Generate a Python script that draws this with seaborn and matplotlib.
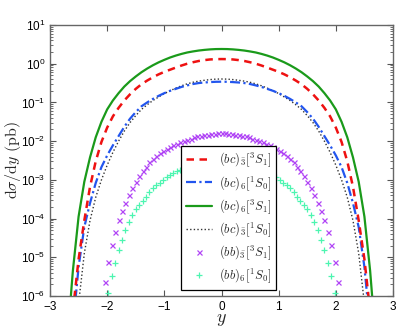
import numpy as np
import pandas as pd
import matplotlib
matplotlib.use("Agg")
import matplotlib.pyplot as plt
from matplotlib.font_manager import FontProperties
from matplotlib import ticker
import seaborn as sns

# ---------------- data (log10 of dsigma/dy in pb) ----------------
y_line = np.round(np.arange(-27, 28) * 0.1, 1)          # rapidity grid for curves
y_mark = np.round(np.arange(-35, 36) * 0.06, 2)         # rapidity grid for markers

log_bc3_3S1 = [-8.0,-6.4,-5.05,-4.05,-3.18,-2.52,-2.02,-1.65,-1.36,-1.14,-0.95,-0.79,-0.65,-0.53,-0.435,-0.35,-0.275,-0.21,-0.155,-0.10,-0.047,0.0,0.038,0.07,0.093,0.11,0.118,0.12,0.118,0.11,0.093,0.07,0.038,0.0,-0.047,-0.10,-0.155,-0.21,-0.275,-0.35,-0.435,-0.53,-0.65,-0.79,-0.95,-1.14,-1.36,-1.65,-2.02,-2.52,-3.18,-4.05,-5.05,-6.4,-8.0]
log_bc6_1S0 = [-8.5,-6.8,-5.25,-4.22,-3.60,-3.08,-2.67,-2.37,-2.11,-1.87,-1.63,-1.42,-1.25,-1.10,-1.00,-0.91,-0.83,-0.76,-0.70,-0.65,-0.60,-0.56,-0.525,-0.50,-0.485,-0.475,-0.467,-0.465,-0.467,-0.475,-0.485,-0.50,-0.525,-0.56,-0.60,-0.65,-0.70,-0.76,-0.83,-0.91,-1.00,-1.10,-1.25,-1.42,-1.63,-1.87,-2.11,-2.37,-2.67,-3.08,-3.60,-4.22,-5.25,-6.8,-8.5]
log_bc6_3S1 = [-7.2,-5.35,-3.95,-3.05,-2.42,-1.90,-1.50,-1.18,-0.95,-0.76,-0.59,-0.45,-0.33,-0.22,-0.125,-0.04,0.035,0.10,0.16,0.21,0.253,0.29,0.317,0.34,0.357,0.37,0.378,0.38,0.378,0.37,0.357,0.34,0.317,0.29,0.253,0.21,0.16,0.10,0.035,-0.04,-0.125,-0.22,-0.33,-0.45,-0.59,-0.76,-0.95,-1.18,-1.50,-1.90,-2.42,-3.05,-3.95,-5.35,-7.2]
log_bc3_1S0 = [-9.5,-8.0,-6.2,-4.90,-4.05,-3.45,-3.00,-2.62,-2.29,-2.00,-1.74,-1.52,-1.34,-1.18,-1.06,-0.95,-0.86,-0.77,-0.70,-0.63,-0.57,-0.52,-0.48,-0.45,-0.428,-0.41,-0.398,-0.395,-0.398,-0.41,-0.428,-0.45,-0.48,-0.52,-0.57,-0.63,-0.70,-0.77,-0.86,-0.95,-1.06,-1.18,-1.34,-1.52,-1.74,-2.00,-2.29,-2.62,-3.00,-3.45,-4.05,-4.90,-6.2,-8.0,-9.5]

log_bb3_3S1 = [-6.200,-5.630,-5.110,-4.680,-4.340,-4.030,-3.800,-3.585,-3.395,-3.220,-3.050,-2.900,-2.765,-2.655,-2.550,-2.450,-2.375,-2.310,-2.250,-2.200,-2.155,-2.110,-2.070,-2.030,-1.995,-1.960,-1.932,-1.905,-1.878,-1.860,-1.843,-1.830,-1.818,-1.808,-1.802,
               -1.800,
               -1.802,-1.808,-1.818,-1.830,-1.843,-1.860,-1.878,-1.905,-1.932,-1.960,-1.995,-2.030,-2.070,-2.110,-2.155,-2.200,-2.250,-2.310,-2.375,-2.450,-2.550,-2.655,-2.765,-2.900,-3.050,-3.220,-3.395,-3.585,-3.800,-4.030,-4.340,-4.680,-5.110,-5.630,-6.200]
log_bb6_1S0 = [-6.800,-6.330,-5.910,-5.490,-5.140,-4.820,-4.550,-4.300,-4.080,-3.910,-3.760,-3.646,-3.535,-3.430,-3.325,-3.220,-3.145,-3.070,-2.995,-2.934,-2.880,-2.826,-2.780,-2.746,-2.713,-2.680,-2.656,-2.632,-2.607,-2.588,-2.568,-2.550,-2.538,-2.528,-2.522,
               -2.520,
               -2.522,-2.528,-2.538,-2.550,-2.568,-2.588,-2.607,-2.632,-2.656,-2.680,-2.713,-2.746,-2.780,-2.826,-2.880,-2.934,-2.995,-3.070,-3.145,-3.220,-3.325,-3.430,-3.535,-3.646,-3.760,-3.910,-4.080,-4.300,-4.550,-4.820,-5.140,-5.490,-5.910,-6.330,-6.800]

labels = [r'$(bc)_{\bar{3}}[^{3}S_{1}]$', r'$(bc)_{6}[^{1}S_{0}]$', r'$(bc)_{6}[^{3}S_{1}]$',
          r'$(bc)_{\bar{3}}[^{1}S_{0}]$', r'$(bb)_{\bar{3}}[^{3}S_{1}]$', r'$(bb)_{6}[^{1}S_{0}]$']
x_ticks = [-3, -2, -1, 0, 1, 2, 3]
y_tick_exp = [-6, -5, -4, -3, -2, -1, 0, 1]

# ---------------- style ----------------
sns.set_style("ticks")
plt.rcParams['font.family'] = ['Liberation Sans', 'DejaVu Sans']
plt.rcParams['mathtext.fontset'] = 'custom'
plt.rcParams['mathtext.rm'] = 'Liberation Sans'
plt.rcParams['mathtext.it'] = 'Liberation Sans:italic'
plt.rcParams['mathtext.bf'] = 'Liberation Sans:bold'

fig = plt.figure(figsize=(4.15, 3.36), dpi=100)
ax = fig.add_axes([50/415, 40/336, 343/415, 271/336])

lines_df = pd.DataFrame({'y': y_line,
                         'a': np.power(10.0, log_bc3_3S1),
                         'b': np.power(10.0, log_bc6_1S0),
                         'c': np.power(10.0, log_bc6_3S1),
                         'd': np.power(10.0, log_bc3_1S0)})
marks_df = pd.DataFrame({'y': y_mark,
                         'e': np.power(10.0, log_bb3_3S1),
                         'f': np.power(10.0, log_bb6_1S0)})

purple = '#b044f5'
mint = '#4cf5b0'
sns.lineplot(data=marks_df, x='y', y='e', ax=ax, color=purple, marker='x', linestyle='none',
             markersize=3.6, markeredgewidth=0.9, markeredgecolor=purple, label=labels[4])
sns.lineplot(data=marks_df, x='y', y='f', ax=ax, color=mint, marker='+', linestyle='none',
             markersize=5, markeredgewidth=0.9, markeredgecolor=mint, label=labels[5])
sns.lineplot(data=lines_df, x='y', y='d', ax=ax, color='#333333', linestyle=(0, (1, 1.6)), linewidth=1.0, label=labels[3])
sns.lineplot(data=lines_df, x='y', y='b', ax=ax, color='#2255ee', linestyle=(0, (4.5, 1.5, 1, 1.5)), linewidth=1.6, label=labels[1])
sns.lineplot(data=lines_df, x='y', y='a', ax=ax, color='#ee1111', linestyle=(0, (3.0, 2.2)), linewidth=1.8, label=labels[0])
sns.lineplot(data=lines_df, x='y', y='c', ax=ax, color='#1a9a1a', linestyle='-', linewidth=1.6, label=labels[2])

ax.set_yscale('log')
ax.set_xlim(-3, 3)
ax.set_ylim(1e-6, 10)
ax.set_xticks(x_ticks)
ax.set_xticklabels([str(v).replace('-', '\u2212') for v in x_ticks])
ax.xaxis.set_minor_locator(ticker.NullLocator())
ax.yaxis.set_major_locator(ticker.FixedLocator([10.0 ** e for e in y_tick_exp]))
ax.yaxis.set_major_formatter(ticker.FixedFormatter(['$10^{%d}$' % e for e in y_tick_exp]))
ax.yaxis.set_minor_locator(ticker.LogLocator(base=10, subs=np.arange(2, 10), numticks=20))
ax.yaxis.set_minor_formatter(ticker.NullFormatter())
ax.tick_params(which='both', direction='in', top=True, right=True, colors='#555555',
               labelcolor='black', labelsize=8.5)
ax.tick_params(which='major', length=4, width=0.8)
ax.tick_params(which='minor', length=2, width=0.6)
for s in ax.spines.values():
    s.set_color('#666666')
    s.set_linewidth(1.0)

ax.set_xlabel('$y$', fontsize=13, math_fontfamily='cm', labelpad=-1)
ax.set_ylabel(r'$\mathrm{d}\sigma/\mathrm{d}y\ (\mathrm{pb})$', fontsize=11.5, math_fontfamily='cm')
ax.yaxis.set_label_coords(-0.08, 0.5)

h, l = ax.get_legend_handles_labels()
order = [labels.index(t) for t in l]
pairs = sorted(zip(order, h, l))
leg = ax.legend([p[1] for p in pairs], [p[2] for p in pairs],
                loc='lower left', bbox_to_anchor=(0.382, 0.022), borderaxespad=0,
                prop=FontProperties(size=9, math_fontfamily='cm'),
                frameon=True, fancybox=False, edgecolor='black', framealpha=1,
                handlelength=2.1, labelspacing=0.36, borderpad=0.4, handletextpad=0.5)
leg.get_frame().set_linewidth(0.9)

fig.savefig('out.png', dpi=100)
